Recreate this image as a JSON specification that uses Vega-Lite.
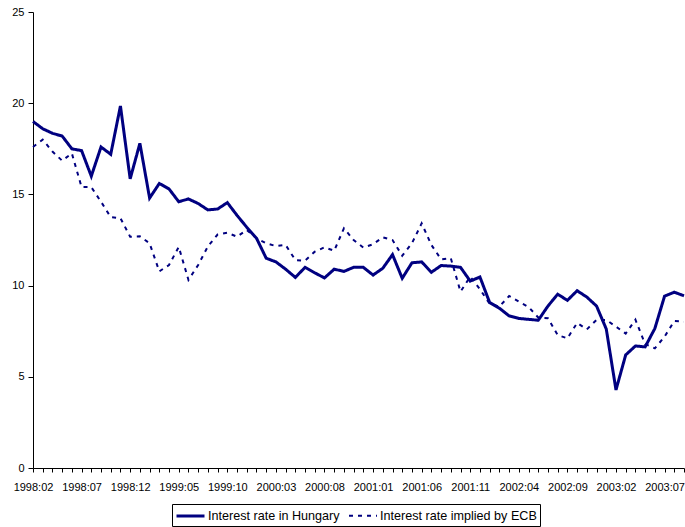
{
  "$schema": "https://vega.github.io/schema/vega-lite/v6.json",
  "width": 651,
  "height": 456,
  "autosize": {"type": "none"},
  "padding": {"left": 33, "top": 12, "right": 1, "bottom": 59},
  "background": "white",
  "config": {
    "view": {"stroke": null},
    "font": "Liberation Sans",
    "axis": {
      "labelFont": "Liberation Sans",
      "labelFontSize": 11,
      "labelColor": "black",
      "domainColor": "black",
      "tickColor": "black",
      "grid": false,
      "title": null
    },
    "legend": {
      "labelFont": "Liberation Sans",
      "labelFontSize": 12.6,
      "labelColor": "black"
    }
  },
  "data": {
    "values": [
      {"month": "1998:02", "hu": 19.0, "ecb": 17.6},
      {"month": "1998:03", "hu": 18.6, "ecb": 18.0},
      {"month": "1998:04", "hu": 18.35, "ecb": 17.35},
      {"month": "1998:05", "hu": 18.2, "ecb": 16.85},
      {"month": "1998:06", "hu": 17.5, "ecb": 17.25},
      {"month": "1998:07", "hu": 17.4, "ecb": 15.4},
      {"month": "1998:08", "hu": 16.0, "ecb": 15.4},
      {"month": "1998:09", "hu": 17.6, "ecb": 14.6},
      {"month": "1998:10", "hu": 17.2, "ecb": 13.75},
      {"month": "1998:11", "hu": 19.85, "ecb": 13.7},
      {"month": "1998:12", "hu": 15.85, "ecb": 12.68},
      {"month": "1999:01", "hu": 17.8, "ecb": 12.7},
      {"month": "1999:02", "hu": 14.8, "ecb": 12.32},
      {"month": "1999:03", "hu": 15.6, "ecb": 10.78},
      {"month": "1999:04", "hu": 15.3, "ecb": 11.13},
      {"month": "1999:05", "hu": 14.6, "ecb": 12.12},
      {"month": "1999:06", "hu": 14.75, "ecb": 10.31},
      {"month": "1999:07", "hu": 14.5, "ecb": 11.13},
      {"month": "1999:08", "hu": 14.15, "ecb": 12.15},
      {"month": "1999:09", "hu": 14.2, "ecb": 12.8},
      {"month": "1999:10", "hu": 14.55, "ecb": 12.9},
      {"month": "1999:11", "hu": 13.85, "ecb": 12.68},
      {"month": "1999:12", "hu": 13.2, "ecb": 13.05},
      {"month": "2000:01", "hu": 12.6, "ecb": 12.59},
      {"month": "2000:02", "hu": 11.5, "ecb": 12.32},
      {"month": "2000:03", "hu": 11.3, "ecb": 12.17},
      {"month": "2000:04", "hu": 10.9, "ecb": 12.23},
      {"month": "2000:05", "hu": 10.45, "ecb": 11.4},
      {"month": "2000:06", "hu": 11.0, "ecb": 11.37},
      {"month": "2000:07", "hu": 10.7, "ecb": 11.86},
      {"month": "2000:08", "hu": 10.42, "ecb": 12.1},
      {"month": "2000:09", "hu": 10.9, "ecb": 11.91},
      {"month": "2000:10", "hu": 10.78, "ecb": 13.14},
      {"month": "2000:11", "hu": 11.0, "ecb": 12.5},
      {"month": "2000:12", "hu": 11.0, "ecb": 12.08},
      {"month": "2001:01", "hu": 10.58, "ecb": 12.27},
      {"month": "2001:02", "hu": 10.95, "ecb": 12.65},
      {"month": "2001:03", "hu": 11.7, "ecb": 12.5},
      {"month": "2001:04", "hu": 10.4, "ecb": 11.64},
      {"month": "2001:05", "hu": 11.25, "ecb": 12.32},
      {"month": "2001:06", "hu": 11.3, "ecb": 13.41},
      {"month": "2001:07", "hu": 10.73, "ecb": 12.23},
      {"month": "2001:08", "hu": 11.1, "ecb": 11.44},
      {"month": "2001:09", "hu": 11.07, "ecb": 11.5},
      {"month": "2001:10", "hu": 11.0, "ecb": 9.67},
      {"month": "2001:11", "hu": 10.25, "ecb": 10.49},
      {"month": "2001:12", "hu": 10.47, "ecb": 9.8},
      {"month": "2002:01", "hu": 9.07, "ecb": 9.0},
      {"month": "2002:02", "hu": 8.76, "ecb": 8.85},
      {"month": "2002:03", "hu": 8.34, "ecb": 9.43},
      {"month": "2002:04", "hu": 8.2, "ecb": 9.12},
      {"month": "2002:05", "hu": 8.15, "ecb": 8.83},
      {"month": "2002:06", "hu": 8.1, "ecb": 8.25},
      {"month": "2002:07", "hu": 8.88, "ecb": 8.21},
      {"month": "2002:08", "hu": 9.53, "ecb": 7.29},
      {"month": "2002:09", "hu": 9.19, "ecb": 7.11},
      {"month": "2002:10", "hu": 9.72, "ecb": 7.95},
      {"month": "2002:11", "hu": 9.37, "ecb": 7.6},
      {"month": "2002:12", "hu": 8.88, "ecb": 8.12},
      {"month": "2003:01", "hu": 7.62, "ecb": 8.12},
      {"month": "2003:02", "hu": 4.28, "ecb": 7.75},
      {"month": "2003:03", "hu": 6.2, "ecb": 7.37},
      {"month": "2003:04", "hu": 6.69, "ecb": 8.13},
      {"month": "2003:05", "hu": 6.64, "ecb": 6.8},
      {"month": "2003:06", "hu": 7.65, "ecb": 6.56},
      {"month": "2003:07", "hu": 9.42, "ecb": 7.2},
      {"month": "2003:08", "hu": 9.64, "ecb": 8.06},
      {"month": "2003:09", "hu": 9.44, "ecb": 8.02}
    ]
  },
  "transform": [
    {"fold": ["hu", "ecb"], "as": ["key", "rate"]},
    {"lookup": "key", "from": {"data": {"values": [
      {"key": "hu", "series": "Interest rate in Hungary"},
      {"key": "ecb", "series": "Interest rate implied by ECB"}
    ]}, "key": "key", "fields": ["series"]}}
  ],
  "mark": {"type": "line", "color": "#000080", "strokeCap": "butt", "strokeJoin": "miter"},
  "encoding": {
    "x": {
      "field": "month",
      "type": "ordinal",
      "scale": {"type": "point", "padding": 0},
      "axis": {
        "labelAngle": 0,
        "labelOverlap": false,
        "tickSize": 4,
        "labelPadding": 9,
        "domainWidth": 1,
        "labelExpr": "indexof(['1998:02','1998:07','1998:12','1999:05','1999:10','2000:03','2000:08','2001:01','2001:06','2001:11','2002:04','2002:09','2003:02','2003:07'], datum.value) >= 0 ? datum.value : ''"
      }
    },
    "y": {
      "field": "rate",
      "type": "quantitative",
      "scale": {"domain": [0, 25], "nice": false, "zero": true},
      "axis": {"values": [0, 5, 10, 15, 20, 25], "tickSize": 5, "labelPadding": 4}
    },
    "strokeDash": {
      "field": "series",
      "type": "nominal",
      "scale": {
        "domain": ["Interest rate in Hungary", "Interest rate implied by ECB"],
        "range": [[1, 0], [4, 5]]
      },
      "legend": {
        "title": null,
        "orient": "none",
        "legendX": 139,
        "legendY": 492,
        "direction": "horizontal",
        "symbolType": "M-1,0H3",
        "symbolSize": 196,
        "symbolStrokeWidth": 2.5,
        "symbolStrokeColor": "#000080",
        "labelOffset": 16,
        "columnPadding": 5,
        "padding": 3,
        "strokeColor": "black",
        "cornerRadius": 0
      }
    },
    "strokeWidth": {
      "field": "series",
      "type": "nominal",
      "scale": {
        "domain": ["Interest rate in Hungary", "Interest rate implied by ECB"],
        "range": [3, 2]
      },
      "legend": null
    }
  }
}
